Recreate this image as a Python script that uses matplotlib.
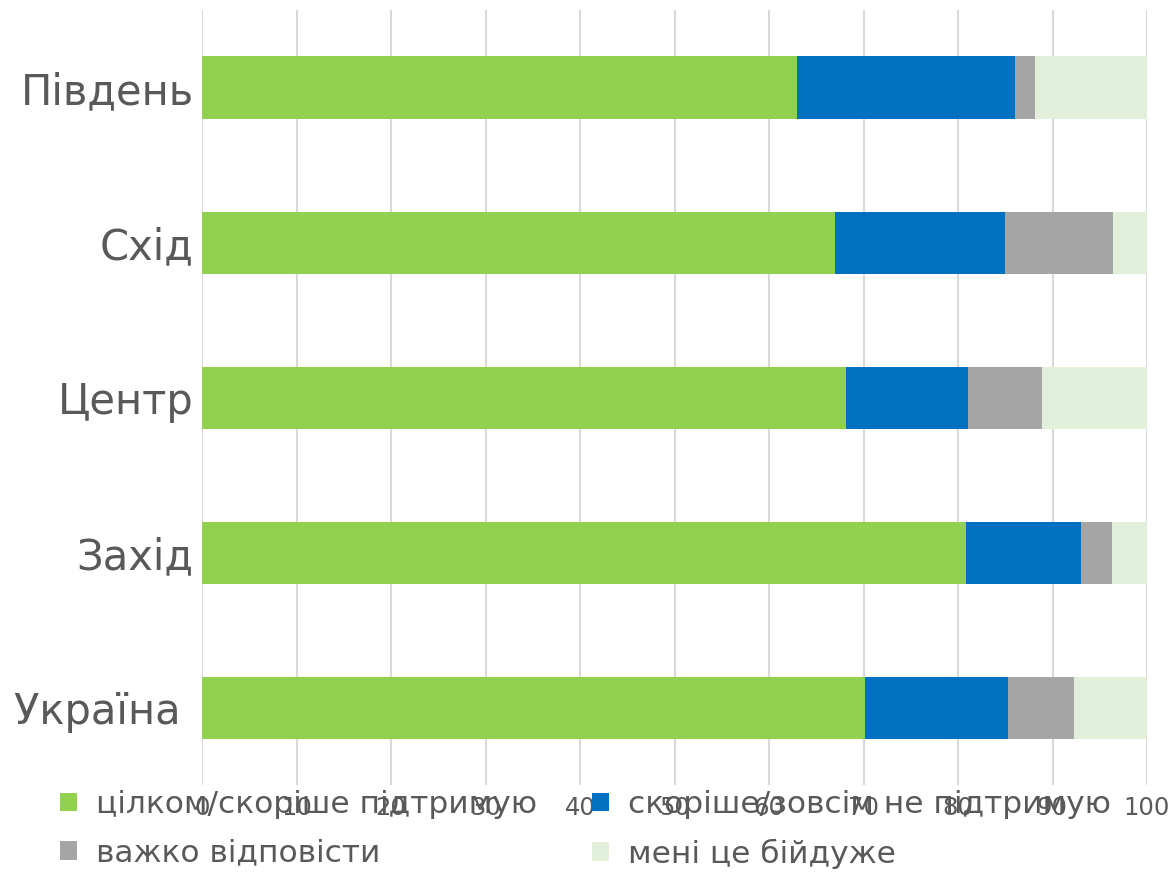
import matplotlib.pyplot as plt
import numpy as np

# regions, bottom to top as drawn
regions = ['Україна ', 'Захід', 'Центр', 'Схід', 'Південь']
support = [70.2, 80.8, 68.1, 67.0, 63.0]
not_support = [15.1, 12.2, 13.0, 18.0, 23.0]
hard_to_say = [7.0, 3.3, 7.8, 11.4, 2.1]
dont_care = [7.7, 3.7, 11.1, 3.6, 11.9]

series = ['цілком/скоріше підтримую', 'скоріше/зовсім не підтримую',
          'важко відповісти', 'мені це бійдуже']
colors = ['#92D050', '#0070C0', '#A5A5A5', '#E2EFDA']
text_color = '#595959'

plt.rcParams['font.family'] = ['DejaVu Sans']

fig = plt.figure(figsize=(11.74, 8.75), dpi=100)
ax = fig.add_axes([202 / 1174, 1 - 785 / 875, 945 / 1174, 775 / 875])

y = np.arange(len(regions))
left = np.zeros(len(regions))
bars = []
for vals, name, col in zip([support, not_support, hard_to_say, dont_care], series, colors):
    bars.append(ax.barh(y, vals, left=left, height=0.4, color=col, label=name, zorder=3))
    left += np.array(vals)

ax.set_xlim(0, 100)
ax.set_ylim(-0.5, 4.5)
ax.set_xticks(np.arange(0, 101, 10))
ax.set_yticks(y)
ax.set_yticklabels(regions, fontsize=30, color=text_color)
ax.tick_params(axis='x', labelsize=17.5, colors=text_color, length=0, pad=8)
ax.tick_params(axis='y', length=0, pad=6)
ax.grid(axis='x', color='#D9D9D9', linewidth=1.5, zorder=0)
for s in ax.spines.values():
    s.set_visible(False)

# legend fills column by column, so order for rows: green, blue / gray, light
order = [0, 2, 1, 3]
leg = fig.legend([bars[i] for i in order], [series[i] for i in order],
                 loc='upper left', bbox_to_anchor=(60 / 1174, 1 - 790 / 875), ncol=2,
                 frameon=False, fontsize=22.5, handlelength=0.55, handleheight=0.55,
                 handletextpad=0.6, columnspacing=1.75, labelspacing=0.62, borderpad=0,
                 borderaxespad=0)
for t in leg.get_texts():
    t.set_color(text_color)

fig.savefig('out.png', dpi=100)
